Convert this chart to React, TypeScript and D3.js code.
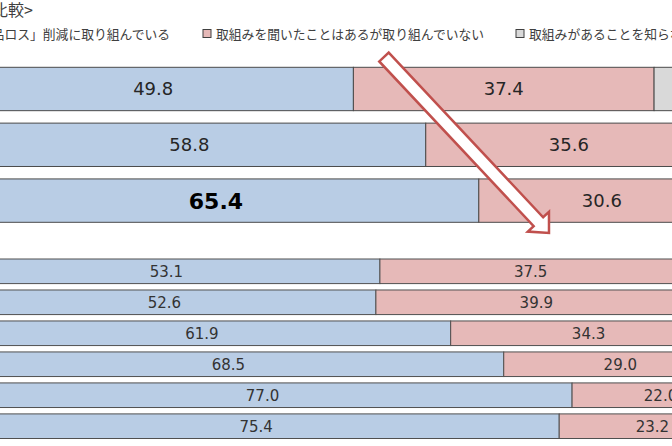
import React from "react";
import * as d3 from "d3";

const topCategories = ["row1", "row2", "row3"];
const topDoing = [49.8, 58.8, 65.4];
const topHeard = [37.4, 35.6, 30.6];
const topUnaware = [12.8, 5.6, 4.0];

const bottomCategories = ["b1", "b2", "b3", "b4", "b5", "b6"];
const bottomDoing = [53.1, 52.6, 61.9, 68.5, 77.0, 75.4];
const bottomHeard = [37.5, 39.9, 34.3, 29.0, 22.0, 23.2];
const bottomUnaware = [9.4, 7.5, 3.8, 2.5, 1.0, 1.4];

const seriesNames = [
  "「食品ロス」削減に取り組んでいる",
  "取組みを聞いたことはあるが取り組んでいない",
  "取組みがあることを知らない",
];
const colors = ["#b9cde5", "#e6b9b8", "#d9d9d9"];
const title = "<比較>";

const W = 672;
const H = 446;
const FONT = "'Noto Sans CJK JP', 'DejaVu Sans', sans-serif";
const NUMFONT = "'DejaVu Sans', Verdana, sans-serif";

export default function App() {
  const x = d3.scaleLinear().domain([0, 100]).range([-47, 757]);
  const yTop = d3
    .scaleBand<string>()
    .domain(topCategories)
    .range([67.3, 222.3])
    .paddingInner(0.223)
    .paddingOuter(0);
  const yBot = d3
    .scaleBand<string>()
    .domain(bottomCategories)
    .range([259, 438.5])
    .paddingInner(0.206)
    .paddingOuter(0);

  const buildRows = (cats: string[], a: number[], b: number[], c: number[]) =>
    cats.map((cat, i) => {
      const vals = [a[i], b[i], c[i]];
      const ends = d3.cumsum(vals);
      return vals.map((v, j) => ({ cat, v, j, x0: ends[j] - v, x1: ends[j] }));
    });

  const topRows = buildRows(topCategories, topDoing, topHeard, topUnaware);
  const botRows = buildRows(bottomCategories, bottomDoing, bottomHeard, bottomUnaware);

  // arrow geometry
  const tail: [number, number] = [384, 57];
  const tip: [number, number] = [549, 233];
  const dx = tip[0] - tail[0];
  const dy = tip[1] - tail[1];
  const len = Math.hypot(dx, dy);
  const ux = dx / len, uy = dy / len;
  const nx = uy, ny = -ux;
  const sw = 6.5, hw = 14.5, hl = 15.5;
  const hb: [number, number] = [tip[0] - ux * hl, tip[1] - uy * hl];
  const pts: [number, number][] = [
    [tail[0] + nx * sw, tail[1] + ny * sw],
    [hb[0] + nx * sw, hb[1] + ny * sw],
    [hb[0] + nx * hw, hb[1] + ny * hw],
    tip,
    [hb[0] - nx * hw, hb[1] - ny * hw],
    [hb[0] - nx * sw, hb[1] - ny * sw],
    [tail[0] - nx * sw, tail[1] - ny * sw],
  ];
  const arrowPath = d3.line()(pts) + "Z";

  const legendX = [-47, 203, 516];

  return (
    <svg
      width={W}
      height={H}
      style={{ position: "absolute", left: 0, top: 0, background: "#fff" }}
    >
      <text x={33} y={16} fontFamily={FONT} fontSize={16} fill="#404040" textAnchor="end">
        {title}
      </text>
      {seriesNames.map((s, i) => (
        <g key={s}>
          <rect
            x={legendX[i]}
            y={29.5}
            width={8}
            height={8}
            fill={colors[i]}
            stroke="#404040"
            strokeWidth={1}
          />
          <text x={legendX[i] + 13} y={39} fontFamily={FONT} fontSize={12.8} fill="#404040">
            {s}
          </text>
        </g>
      ))}
      {topRows.map((row) =>
        row.map((d) => (
          <g key={d.cat + d.j}>
            <rect
              x={x(d.x0)}
              y={yTop(d.cat)!}
              width={x(d.x1) - x(d.x0)}
              height={yTop.bandwidth()}
              fill={colors[d.j]}
              stroke="#4a4a4a"
              strokeWidth={1}
            />
            <text
              x={(x(d.x0) + x(d.x1)) / 2}
              y={yTop(d.cat)! + yTop.bandwidth() / 2}
              dy="0.36em"
              textAnchor="middle"
              fontFamily={NUMFONT}
              fontSize={d.cat === "row3" && d.j === 0 ? 22 : 18}
              fontWeight={d.cat === "row3" && d.j === 0 ? "bold" : "normal"}
              fill={d.cat === "row3" && d.j === 0 ? "#000" : "#262626"}
            >
              {d.v.toFixed(1)}
            </text>
          </g>
        ))
      )}
      {botRows.map((row) =>
        row.map((d) => (
          <g key={d.cat + d.j}>
            <rect
              x={x(d.x0)}
              y={yBot(d.cat)!}
              width={x(d.x1) - x(d.x0)}
              height={yBot.bandwidth()}
              fill={colors[d.j]}
              stroke="#505050"
              strokeWidth={1}
            />
            <text
              x={(x(d.x0) + x(d.x1)) / 2}
              y={yBot(d.cat)! + yBot.bandwidth() / 2}
              dy="0.36em"
              textAnchor="middle"
              fontFamily={NUMFONT}
              fontSize={15}
              fill="#333"
            >
              {d.v.toFixed(1)}
            </text>
          </g>
        ))
      )}
      <path d={arrowPath} fill="#fff" stroke="#c0504d" strokeWidth={2.5} strokeLinejoin="miter" />
    </svg>
  );
}
